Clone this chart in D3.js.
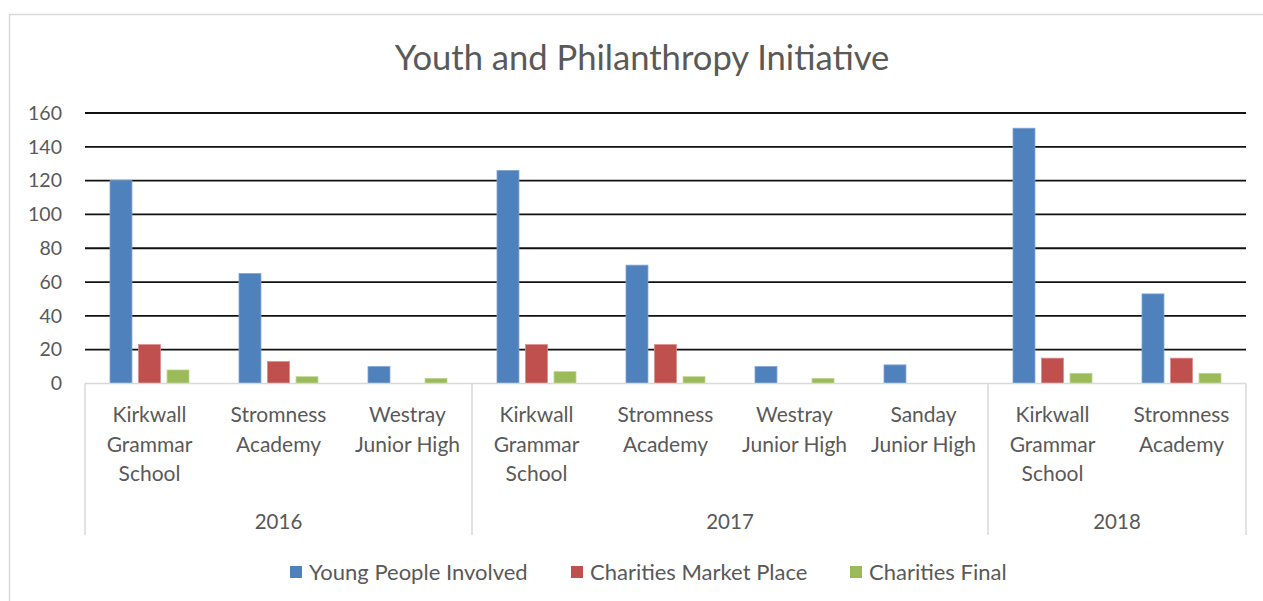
<!DOCTYPE html>
<html>
<head>
<meta charset="utf-8">
<script src="https://cdn.jsdelivr.net/npm/d3@7"></script>
<style>
  html, body { margin: 0; padding: 0; background: #fff; }
  svg { display: block; font-family: Lato, "Open Sans", sans-serif; }
</style>
</head>
<body>
<svg id="chart" width="1263" height="601"></svg>
<script>
// ---- Data ----
const chartTitle = "Youth and Philanthropy Initiative";
const schools = [
  ["Kirkwall", "Grammar", "School"],
  ["Stromness", "Academy"],
  ["Westray", "Junior High"],
  ["Kirkwall", "Grammar", "School"],
  ["Stromness", "Academy"],
  ["Westray", "Junior High"],
  ["Sanday", "Junior High"],
  ["Kirkwall", "Grammar", "School"],
  ["Stromness", "Academy"]
];
const years = ["2016", "2017", "2018"];
const schoolsPerYear = [3, 4, 2];
const seriesNames = ["Young People Involved", "Charities Market Place", "Charities Final"];
const youngPeople = [120, 65, 10, 126, 70, 10, 11, 151, 53];
const marketPlace = [23, 13, 0, 23, 23, 0, 0, 15, 15];
const charitiesFinal = [8, 4, 3, 7, 4, 3, 0, 6, 6];
const yTicks = [0, 20, 40, 60, 80, 100, 120, 140, 160];
const colors = ["#4F81BD", "#C0504D", "#9BBB59"];
const strokeColors = ["#7FA3D3", "#DA8C8A", "#BCD48C"];

// ---- Layout ----
const svg = d3.select("#chart");
const plotLeft = 85, plotRight = 1246, plotTop = 113, baseY = 383.5;
const seriesValues = [youngPeople, marketPlace, charitiesFinal];
const catIdx = schools.map((d, i) => i);

const x = d3.scaleBand().domain(catIdx).range([plotLeft, plotRight]).padding(0);
const bw = x.bandwidth();
const xs = d3.scaleBand().domain([0, 1, 2])
  .range([bw / 2 - 39.5, bw / 2 + 39.5]).paddingInner(0.23).paddingOuter(0);
const y = d3.scaleLinear().domain([0, 160]).range([baseY, plotTop]);

// chart border
svg.append("rect").attr("x", 9.5).attr("y", 14.5).attr("width", 1263).attr("height", 600)
  .attr("fill", "none").attr("stroke", "#d9d9d9").attr("stroke-width", 1.5);

// title
svg.append("text").attr("x", 642).attr("y", 70).attr("text-anchor", "middle")
  .attr("font-size", 34.6).attr("fill", "#595959").text(chartTitle);

// y axis labels
const yAxis = d3.axisLeft(y).tickValues(yTicks).tickSize(0).tickPadding(23);
const gy = svg.append("g").attr("transform", `translate(${plotLeft},0)`).call(yAxis);
gy.select(".domain").remove();
gy.selectAll("text").attr("font-size", 19.5).attr("fill", "#595959")
  .attr("font-family", "Lato, sans-serif");

// gridlines (0 drawn as gray category axis)
svg.append("g").selectAll("line").data(yTicks.filter(t => t > 0)).join("line")
  .attr("x1", plotLeft).attr("x2", plotRight)
  .attr("y1", d => y(d)).attr("y2", d => y(d))
  .attr("stroke", "#111").attr("stroke-width", 1.8);

// bars
const groups = svg.append("g").selectAll("g").data(catIdx).join("g")
  .attr("transform", d => `translate(${x(d)},0)`);
groups.selectAll("rect").data(i => seriesValues.map((vals, s) => ({ s, v: vals[i] })).filter(d => d.v > 0))
  .join("rect")
  .attr("x", d => xs(d.s))
  .attr("width", xs.bandwidth())
  .attr("y", d => y(d.v))
  .attr("height", d => y(0) - y(d.v))
  .attr("fill", d => colors[d.s])
  .attr("stroke", d => strokeColors[d.s])
  .attr("stroke-width", 0.8);

// category axis
const axisColor = "#d9d9d9";
svg.append("line").attr("x1", plotLeft).attr("x2", plotRight).attr("y1", baseY).attr("y2", baseY)
  .attr("stroke", axisColor).attr("stroke-width", 1.5);

// year separators
const bounds = [0];
schoolsPerYear.forEach((n, i) => bounds.push(bounds[i] + n));
svg.append("g").selectAll("line").data(bounds).join("line")
  .attr("x1", b => b < schools.length ? x(b) : plotRight)
  .attr("x2", b => b < schools.length ? x(b) : plotRight)
  .attr("y1", baseY).attr("y2", 535)
  .attr("stroke", axisColor).attr("stroke-width", 1.5);

// category labels
const catLabels = svg.append("g").selectAll("text").data(catIdx).join("text")
  .attr("text-anchor", "middle").attr("font-size", 21).attr("fill", "#595959")
  .attr("x", i => x(i) + bw / 2).attr("y", 422);
catLabels.selectAll("tspan").data(i => schools[i]).join("tspan")
  .attr("x", function () { return d3.select(this.parentNode).attr("x"); })
  .attr("dy", (d, j) => j === 0 ? 0 : 29.7)
  .text(d => d);

// year labels
svg.append("g").selectAll("text").data(years).join("text")
  .attr("text-anchor", "middle").attr("font-size", 20.5).attr("fill", "#595959")
  .attr("x", (d, i) => {
    const a = x(bounds[i]);
    const b = bounds[i + 1] < schools.length ? x(bounds[i + 1]) : plotRight;
    return (a + b) / 2;
  })
  .attr("y", 528.5).text(d => d);

// legend
const legendX = [290, 571, 850];
const lg = svg.append("g").selectAll("g").data(seriesNames).join("g")
  .attr("transform", (d, i) => `translate(${legendX[i]},0)`);
lg.append("rect").attr("x", 0).attr("y", 566).attr("width", 12).attr("height", 12)
  .attr("fill", (d, i) => colors[i]);
lg.append("text").attr("x", 19).attr("y", 579.5).attr("font-size", 22).attr("fill", "#595959")
  .text(d => d);
</script>
</body>
</html>
